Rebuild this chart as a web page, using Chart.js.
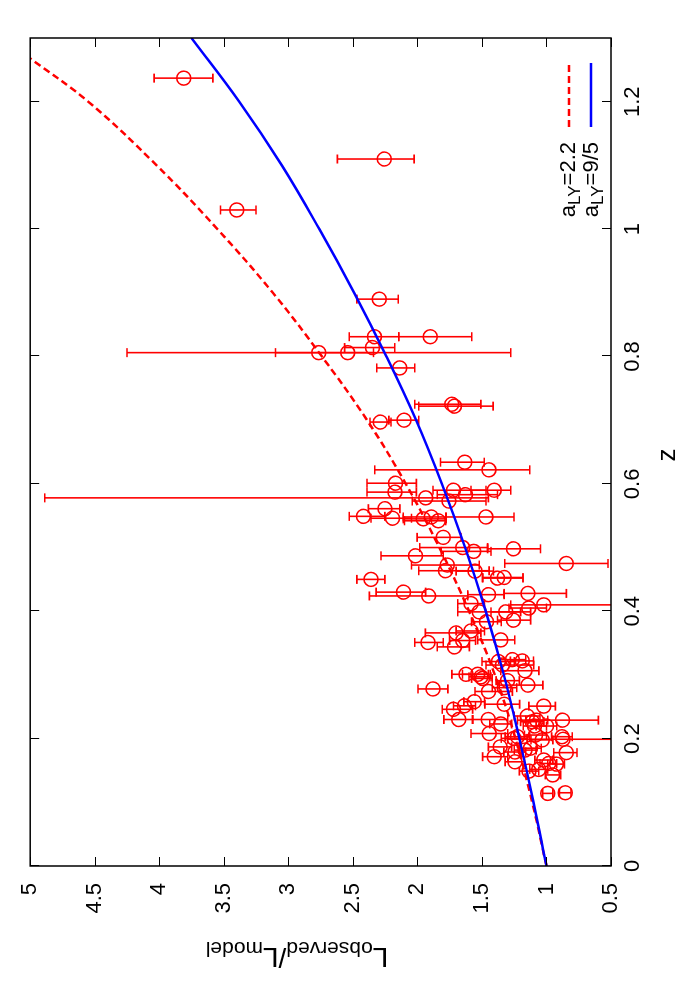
<!DOCTYPE html>
<html><head><meta charset="utf-8">
<script src="https://cdn.jsdelivr.net/npm/chart.js@4.4.1/dist/chart.umd.min.js"></script>
<style>
html,body{margin:0;padding:0;background:#fff;overflow:hidden;width:700px;height:1000px}
#wrap{position:absolute;left:0;top:0;width:1000px;height:700px;transform-origin:0 0;transform:translate(0px,1000px) rotate(-90deg)}
canvas{display:block}
</style></head>
<body>
<div id="wrap"><canvas id="c" width="1000" height="700" style="width:1000px;height:700px"></canvas></div>
<script>
// ---- data ----
const zVals = [1.237,1.030,1.110,0.890,0.831,0.831,0.814,0.806,0.806,0.782,0.725,0.722,0.697,0.700,0.634,0.622,
 0.601,0.587,0.590,0.590,0.583,0.578,0.573,0.561,0.549,0.546,0.545,0.548,0.542,0.548,0.516,0.500,0.494,0.498,0.487,0.475,
 0.4725,0.4636,0.463,0.452,0.453,0.450,0.430,0.424,0.426,0.428,0.412,0.405,0.410,0.399,0.399,
 0.3835,0.386,0.366,0.369,0.351,0.354,0.344,0.355,0.321,0.3155,0.324,0.322,0.3066,0.301,0.301,0.297,0.2945,0.291,0.280,
 0.284,0.278,0.274,0.254,0.258,0.2515,0.246,0.251,0.230,0.230,0.223,0.2355,0.2266,0.229,0.2198,0.2198,0.229,0.208,
 0.2004,0.203,0.2056,0.198,0.203,0.199,0.187,0.179,0.182,0.185,0.178,0.1716,0.1636,0.1664,0.161,0.160,0.149,0.1517,
 0.143,0.114,0.115];
const lVals = [3.81,3.40,2.256,2.295,2.333,1.90,2.348,2.764,2.54,2.136,1.733,1.713,2.287,2.103,1.633,1.446,
 2.169,2.174,1.721,1.405,1.628,1.936,1.756,2.252,2.418,2.192,1.954,1.892,1.838,1.469,1.80,1.649,1.564,1.256,2.015,0.846,
 1.769,1.782,1.554,1.379,1.328,2.359,2.108,1.913,1.449,1.144,1.585,1.138,1.021,1.521,1.315,
 1.464,1.256,1.70,1.585,1.918,1.649,1.713,1.354,1.372,1.341,1.264,1.187,1.167,1.623,1.533,1.508,1.495,1.302,1.328,
 1.144,1.879,1.449,1.328,1.559,1.636,1.721,1.021,1.679,1.451,1.354,1.148,1.11,1.077,1.092,1.0,0.875,1.444,
 1.252,1.225,1.085,1.033,0.879,0.871,1.359,1.244,1.167,1.123,0.846,1.405,1.244,1.021,0.982,0.923,1.136,1.059,
 0.952,0.99,0.854];
const lLow = [3.585,3.25,2.025,2.148,2.144,1.579,2.175,2.34,1.277,2.02,1.508,1.413,2.205,1.99,1.482,1.13,
 2.008,2.008,1.469,1.277,1.379,1.45,1.469,2.136,2.252,2.046,1.777,1.78,1.78,1.252,1.662,1.456,1.43,1.046,1.80,0.523,
 1.521,1.444,1.41,1.182,1.182,2.252,1.936,1.61,1.328,0.846,1.48,1.0,0.45,1.123,1.2,
 1.35,1.123,1.508,1.48,1.80,1.55,1.597,1.246,1.25,1.098,1.16,1.10,1.059,1.436,1.45,1.43,1.42,1.21,1.23,
 1.028,1.764,1.264,1.208,1.48,1.55,1.572,0.931,1.572,1.30,1.27,1.05,1.02,0.99,1.0,0.92,0.598,1.30,
 1.15,1.13,1.0,0.95,0.80,0.45,1.27,1.16,1.08,1.04,0.764,1.30,1.17,0.95,0.92,0.86,1.06,0.99,
 0.89,0.95,0.81];
const lHigh = [4.04,3.525,2.62,2.469,2.528,2.144,2.564,4.25,3.10,2.315,2.02,1.99,2.367,2.221,1.821,2.33,
 2.39,2.39,1.879,1.585,1.846,4.887,2.04,2.38,2.528,2.36,2.11,2.11,2.10,1.777,2.002,1.982,1.815,1.456,2.282,1.323,
 2.046,1.99,1.70,1.495,1.495,2.469,2.32,2.372,1.61,1.328,1.687,1.29,1.277,1.687,1.43,
 1.58,1.379,1.938,1.70,2.02,1.75,1.846,1.533,1.50,1.469,1.37,1.28,1.354,1.733,1.65,1.60,1.58,1.39,1.42,
 1.367,1.995,1.554,1.477,1.64,1.72,1.808,1.136,1.795,1.572,1.44,1.25,1.20,1.16,1.18,1.08,1.225,1.585,
 1.35,1.32,1.17,1.12,0.96,1.30,1.45,1.33,1.25,1.21,0.944,1.495,1.32,1.09,1.05,0.99,1.21,1.13,
 1.01,1.03,0.90];

// model curves
const curveBlueZ = [0,0.1,0.2,0.3,0.4,0.5,0.6,0.7,0.8,0.9,1.0,1.1,1.2,1.3];
const curveBlueL = [1.00,1.10,1.21,1.33,1.47,1.63,1.81,2.01,2.24,2.49,2.76,3.05,3.38,3.75];
const curveRedZ  = [0,0.1,0.2,0.3,0.4,0.5,0.6,0.7,0.8,0.9,1.0,1.1,1.2,1.268];
const curveRedL  = [1.00,1.11,1.24,1.40,1.60,1.83,2.09,2.39,2.74,3.12,3.55,4.02,4.55,5.0];

// ticks
const xTicks = [0,0.2,0.4,0.6,0.8,1,1.2];
const xTickLabels = ['0','0.2','0.4','0.6','0.8','1','1.2'];
const yTicks = [0.5,1,1.5,2,2.5,3,3.5,4,4.5,5];
const yTickLabels = ['0.5','1','1.5','2','2.5','3','3.5','4','4.5','5'];

const FONT = '"Liberation Sans", Arial, Helvetica, sans-serif';

function drawParts(ctx, parts, x, base, size, subSize, subDy, align){
  let w = 0;
  parts.forEach(p=>{ ctx.font = (p.sub?subSize:size)+'px '+FONT; p.w = ctx.measureText(p.t).width; w += p.w; });
  let cx = align==='right' ? x - w : (align==='center' ? x - w/2 : x);
  ctx.textAlign='left'; ctx.textBaseline='alphabetic';
  parts.forEach(p=>{ ctx.font = (p.sub?subSize:size)+'px '+FONT; ctx.fillText(p.t, cx, base + (p.sub?subDy:0)); cx += p.w; });
}

const deco = {
  id:'deco',
  beforeDatasetsDraw(chart){
    const {ctx, chartArea:a, scales:{x,y}} = chart;
    ctx.save();
    ctx.beginPath(); ctx.rect(a.left, a.top, a.right-a.left, a.bottom-a.top); ctx.clip();
    ctx.strokeStyle='#ff0000'; ctx.lineWidth=1.6;
    for(let i=0;i<zVals.length;i++){
      const px = x.getPixelForValue(zVals[i]);
      const p1 = y.getPixelForValue(lLow[i]), p2 = y.getPixelForValue(lHigh[i]);
      ctx.beginPath();
      ctx.moveTo(px,p1); ctx.lineTo(px,p2);
      ctx.moveTo(px-4.5,p1); ctx.lineTo(px+4.5,p1);
      ctx.moveTo(px-4.5,p2); ctx.lineTo(px+4.5,p2);
      ctx.stroke();
    }
    ctx.restore();
  },
  afterDraw(chart){
    const {ctx, chartArea:a, scales:{x,y}} = chart;
    ctx.save();
    ctx.strokeStyle='#000'; ctx.lineWidth=1;
    const T=9;
    ctx.beginPath();
    xTicks.forEach(v=>{const p=Math.round(x.getPixelForValue(v))+0.5;
      ctx.moveTo(p,a.bottom); ctx.lineTo(p,a.bottom-T); ctx.moveTo(p,a.top); ctx.lineTo(p,a.top+T);});
    yTicks.forEach(v=>{const p=Math.round(y.getPixelForValue(v))+0.5;
      ctx.moveTo(a.left,p); ctx.lineTo(a.left+T,p); ctx.moveTo(a.right,p); ctx.lineTo(a.right-T,p);});
    ctx.stroke();
    ctx.lineWidth=1.5;
    ctx.strokeRect(a.left, a.top, a.right-a.left, a.bottom-a.top);

    // legend
    ctx.fillStyle='#000';
    drawParts(ctx,[{t:'a'},{t:'LY',sub:true},{t:'=2.2'}], a.left+724, 575, 22, 17, 5, 'right');
    drawParts(ctx,[{t:'a'},{t:'LY',sub:true},{t:'=9/5'}], a.left+724, 598, 22, 17, 5, 'right');
    ctx.lineWidth=2.5;
    ctx.strokeStyle='#ff0000'; ctx.setLineDash([7,4]);
    ctx.beginPath(); ctx.moveTo(a.left+739,569); ctx.lineTo(a.left+803,569); ctx.stroke();
    ctx.setLineDash([]); ctx.strokeStyle='#0000ff';
    ctx.beginPath(); ctx.moveTo(a.left+739,591); ctx.lineTo(a.left+803,591); ctx.stroke();

    // x title
    ctx.fillStyle='#000';
    ctx.font='26px '+FONT; ctx.textAlign='center'; ctx.textBaseline='alphabetic';
    ctx.fillText('z', (a.left+a.right)/2 - 3, 675);
    // y title
    ctx.translate(52, 297); ctx.rotate(-Math.PI/2);
    drawParts(ctx,[{t:'L'},{t:'observed',sub:true},{t:'/'},{t:'L'},{t:'model',sub:true}], 0, 0, 28, 21, 6, 'center');
    ctx.restore();
  }
};

const ctx = document.getElementById('c').getContext('2d');
new Chart(ctx, {
  data: {
    datasets: [
      {type:'line', label:'a_LY=9/5', data: curveBlueZ.map((z,i)=>({x:z,y:curveBlueL[i]})),
       borderColor:'#0000ff', borderWidth:2.5, pointRadius:0, tension:0.4, fill:false},
      {type:'line', label:'a_LY=2.2', data: curveRedZ.map((z,i)=>({x:z,y:curveRedL[i]})),
       borderColor:'#ff0000', borderWidth:2.5, borderDash:[7,4], pointRadius:0, tension:0.4, fill:false},
      {type:'scatter', label:'data', data: zVals.map((z,i)=>({x:z,y:lVals[i]})),
       borderColor:'#ff0000', backgroundColor:'rgba(0,0,0,0)', borderWidth:1.5, pointRadius:7, pointStyle:'circle', showLine:false}
    ]
  },
  options: {
    responsive:false, devicePixelRatio:1, animation:false, events:[],
    layout:{padding:{left:0,right:38,top:26,bottom:0}},
    plugins:{legend:{display:false}, tooltip:{enabled:false}},
    scales:{
      x:{type:'linear', position:'bottom', min:0, max:1.3,
         afterBuildTicks(s){ s.ticks = xTicks.map(v=>({value:v})); },
         afterFit(s){ s.height = 89; },
         ticks:{autoSkip:false, maxRotation:0, padding:9, color:'#000', font:{family:FONT, size:22},
                callback:(v)=>{const i=xTicks.findIndex(t=>Math.abs(t-v)<1e-9); return i>=0?xTickLabels[i]:'';}},
         grid:{display:false, drawTicks:false}, border:{display:false}},
      y:{type:'linear', position:'left', min:0.5, max:5,
         afterBuildTicks(s){ s.ticks = yTicks.map(v=>({value:v})); },
         afterFit(s){ s.width = 134; },
         ticks:{autoSkip:false, padding:17, color:'#000', font:{family:FONT, size:22},
                callback:(v)=>{const i=yTicks.findIndex(t=>Math.abs(t-v)<1e-9); return i>=0?yTickLabels[i]:'';}},
         grid:{display:false, drawTicks:false}, border:{display:false}}
    }
  },
  plugins:[deco]
});
</script>
</body></html>
